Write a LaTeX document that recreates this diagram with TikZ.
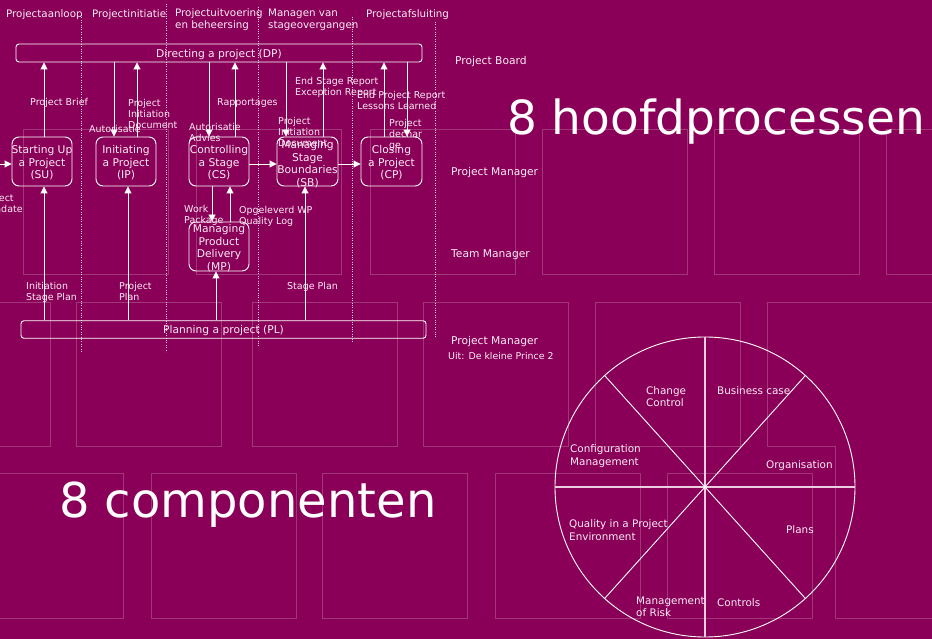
\documentclass[tikz,border=0pt]{standalone}
\usepackage{fontspec}
\setmainfont{DejaVu Sans}
\usetikzlibrary{arrows.meta,calc}
\definecolor{bgc}{RGB}{138,0,88}
\definecolor{gridc}{RGB}{160,56,120}
\definecolor{dotc}{RGB}{238,205,225}
\definecolor{txtc}{RGB}{250,236,244}
\begin{document}
\begin{tikzpicture}[x=1pt,y=-1pt,
  gridline/.style={draw=gridc,line width=1pt},
  dotline/.style={draw=dotc,line width=0.8pt,dash pattern=on 0.8pt off 1.6pt},
  box/.style={draw=white,line width=0.9pt,rounded corners=7pt,minimum width=60pt,minimum height=49pt,inner sep=0pt},
  boxtxt/.style={text=txtc,align=center,inner sep=0pt,yshift=-1.5pt,font=\fontsize{10.7}{12.6}\selectfont},
  bar/.style={draw=white,line width=0.9pt,rounded corners=3pt,inner sep=0pt},
  bartxt/.style={text=txtc,inner sep=0pt,yshift=-1.5pt,font=\fontsize{10.7}{12.6}\selectfont},
  lbl/.style={text=txtc,align=left,anchor=west,inner sep=0pt,yshift=-1.3pt,font=\fontsize{9.5}{11}\selectfont},
  hdr/.style={text=txtc,align=left,anchor=west,inner sep=0pt,yshift=-1.5pt,font=\fontsize{10.3}{12}\selectfont},
  role/.style={text=txtc,align=left,anchor=west,inner sep=0pt,yshift=-1.5pt,font=\fontsize{10.7}{12}\selectfont},
  wlbl/.style={text=txtc,align=left,anchor=west,inner sep=0pt,yshift=-1.3pt,font=\fontsize{10.4}{12.5}\selectfont},
  big/.style={text=white,anchor=base west,inner sep=0pt,font=\fontsize{47}{50}\selectfont},
  arr/.style={draw=white,line width=0.9pt,-{Triangle[length=7pt,width=7pt]}},
  wline/.style={draw=white,line width=0.9pt},
  dline/.style={draw=dotc,line width=1.1pt}
]
\useasboundingbox (0,0) rectangle (932,639);
\fill[bgc] (0,0) rectangle (932,639);

% background rectangles
\foreach \xx in {23,196,370,542,714,886} \draw[gridline] (\xx,130) rectangle ++(145,145);
\foreach \xx in {-95,76,252,423,595} \draw[gridline] (\xx,302) rectangle ++(145,144);
\draw[gridline] (945,302) -- (767,302) -- (767,446) -- (835,446) -- (835,618) -- (945,618);
\foreach \xx in {-22,151,322,495,667} \draw[gridline] (\xx,473) rectangle ++(145,145);

% phase separators
\draw[dotline] (81,15) -- (81,352);
\draw[dotline] (166,4) -- (166,352);
\draw[dotline] (258,7) -- (258,347);
\draw[dotline] (352,17) -- (352,343);
\draw[dotline] (435,22) -- (435,337);

% phase headers
\node[hdr] (h1) at (6,13) {Projectaanloop};
\node[hdr] (h2) at (92,13) {Projectinitiatie};
\node[hdr] (h3) at (175,18) {Projectuitvoering\\en beheersing};
\node[hdr] (h4) at (268,18) {Managen van\\stageovergangen};
\node[hdr] (h5) at (366,13) {Projectafsluiting};

% bars
\node[bar,minimum width=406pt,minimum height=18pt] (dp) at (219,53) {};
\node[bartxt] (dpt) at (dp.center) {Directing a project (DP)};
\node[bar,minimum width=405pt,minimum height=17.5pt] (pl) at (223.5,329.5) {};
\node[bartxt] (plt) at (pl.center) {Planning a project (PL)};

% process boxes
\node[box] (su) at (42,161.5) {};
\node[boxtxt] (sut) at (su.center) {Starting Up\\a Project\\(SU)};
\node[box] (ip) at (126,161.5) {};
\node[boxtxt] (ipt) at (ip.center) {Initiating\\a Project\\(IP)};
\node[box] (cs) at (219,161.5) {};
\node[boxtxt] (cst) at (cs.center) {Controlling\\a Stage\\(CS)};
\node[box,minimum width=61pt] (sb) at (307.5,161.5) {};
\node[boxtxt] (sbt) at ([yshift=-1pt]sb.center) {Managing\\Stage\\Boundaries\\(SB)};
\node[box,minimum width=61pt] (cp) at (391.5,161.5) {};
\node[boxtxt] (cpt) at (cp.center) {Closing\\a Project\\(CP)};
\node[box] (mp) at (219,246.5) {};
\node[boxtxt] (mpt) at (mp.center) {Managing\\Product\\Delivery\\(MP)};

% connectors to/from DP
\draw[arr] ([xshift=2pt]su.north) -- ([xshift=2pt]su.north |- dp.south);
\draw[arr] ([xshift=-12pt]ip.north |- dp.south) -- ([xshift=-12pt]ip.north);
\draw[arr] ([xshift=11pt]ip.north) -- ([xshift=11pt]ip.north |- dp.south);
\draw[arr] ([xshift=-10pt]cs.north |- dp.south) -- ([xshift=-10pt]cs.north);
\draw[arr] ([xshift=16pt]cs.north) -- ([xshift=16pt]cs.north |- dp.south);
\draw[arr] ([xshift=-21.5pt]sb.north |- dp.south) -- ([xshift=-21.5pt]sb.north);
\draw[arr] ([xshift=15.5pt]sb.north) -- ([xshift=15.5pt]sb.north |- dp.south);
\draw[arr] ([xshift=-7.5pt]cp.north) -- ([xshift=-7.5pt]cp.north |- dp.south);
\draw[arr] ([xshift=15.5pt]cp.north |- dp.south) -- ([xshift=15.5pt]cp.north);

% connectors from PL
\draw[arr] ([xshift=2pt]su.south |- pl.north) -- ([xshift=2pt]su.south);
\draw[arr] ([xshift=2pt]ip.south |- pl.north) -- ([xshift=2pt]ip.south);
\draw[arr] ([xshift=-3pt]mp.south |- pl.north) -- ([xshift=-3pt]mp.south);
\draw[arr] ([xshift=-2.5pt]sb.south |- pl.north) -- ([xshift=-2.5pt]sb.south);

% CS <-> MP
\draw[arr] ([xshift=-7pt]cs.south) -- ([xshift=-7pt]mp.north);
\draw[arr] ([xshift=11pt]mp.north) -- ([xshift=11pt]cs.south);

% horizontal flow
\coordinate (mandin) at (0,164);
\draw[arr] (mandin) -- (mandin -| su.west);
\draw[arr] ([yshift=-2.5pt]cs.east) -- ([yshift=-2.5pt]cs.east -| sb.west);
\draw[arr] ([yshift=-2.5pt]sb.east) -- ([yshift=-2.5pt]sb.east -| cp.west);

% connector labels
\node[lbl] (l1) at (30,102) {Project Brief};
\node[lbl] (l2) at (89,128) {Autorisatie};
\node[lbl] (l3) at (128,113) {Project\\Initiation\\Document};
\node[lbl] (l4) at (189,131.5) {Autorisatie\\Advies};
\node[lbl] (l5) at (217,102) {Rapportages};
\node[lbl] (l6) at (278,131) {Project\\Initiation\\Document};
\node[lbl] (l7) at (295,86) {End Stage Report\\Exception Report};
\node[lbl] (l8) at (357,99.5) {End Project Report\\Lessons Learned};
\node[lbl] (l9) at (389,133.5) {Project\\dechar\\ge};
\node[lbl] (l10) at (-19,202.5) {Project\\Mandate};
\node[lbl] (l11) at (184,214) {Work\\Package};
\node[lbl] (l12) at (239,215.5) {Opgeleverd WP\\Quality Log};
\node[lbl] (l13) at (26,291.5) {Initiation\\Stage Plan};
\node[lbl] (l14) at (119,290.5) {Project\\Plan};
\node[lbl] (l15) at (287,286) {Stage Plan};

% roles
\node[role] (r1) at (455,60) {Project Board};
\node[role] (r2) at (451,171) {Project Manager};
\node[role] (r3) at (451,253) {Team Manager};
\node[role] (r4) at (451,340) {Project Manager};
\node[lbl,font=\fontsize{9.4}{11}\selectfont] (src) at (448,355) {Uit: De kleine Prince 2};

% big titles
\node[big] (t1) at (507,135) {8 hoofdprocessen};
\node[big,font=\fontsize{48}{50}\selectfont] (t2) at (59,517) {8 componenten};

% wheel of components
\node[draw=white,line width=0.9pt,circle,minimum size=300pt,inner sep=0pt] (wheel) at (705,487) {};
\draw[dline] (wheel.north) -- (wheel.south);
\draw[dline] (wheel.west) -- (wheel.east);
\draw[wline] (wheel.48) -- (wheel.228);
\draw[wline] (wheel.132) -- (wheel.312);

\node[wlbl] (c1) at (646,395.5) {Change\\Control};
\node[wlbl] (c2) at (717,389) {Business case};
\node[wlbl] (c3) at (570,455) {Configuration\\Management};
\node[wlbl] (c4) at (766,464) {Organisation};
\node[wlbl] (c5) at (569,529) {Quality in a Project\\Environment};
\node[wlbl] (c6) at (786,528) {Plans};
\node[wlbl] (c7) at (636,605.5) {Management\\of Risk};
\node[wlbl] (c8) at (717,601) {Controls};
\end{tikzpicture}
\end{document}
